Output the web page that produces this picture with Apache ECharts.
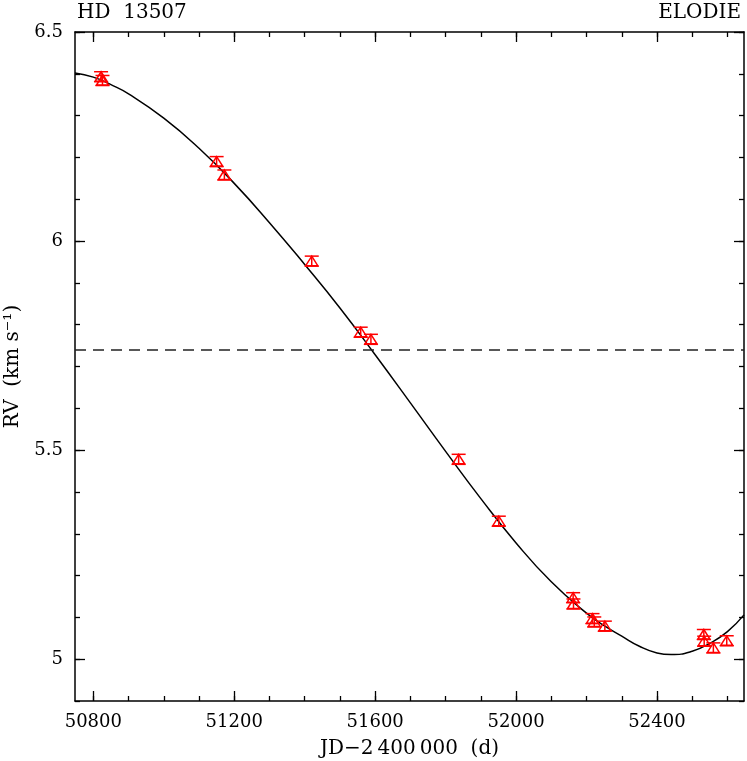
<!DOCTYPE html>
<html>
<head>
<meta charset="utf-8">
<title>HD 13507 ELODIE</title>
<script src="https://cdn.jsdelivr.net/npm/echarts@6/dist/echarts.min.js"></script>
<style>
    html, body { margin: 0; padding: 0; background: #fff; }
    #chart { width: 747px; height: 761px; }
</style>
</head>
<body>
<div id="chart"></div>
<script>
// mesures ELODIE (JD-2400000, km/s)
var obsJd  = [50822, 50826, 51150, 51172, 51420, 51559, 51588, 51837, 51951,
              52162, 52163, 52217, 52222, 52252, 52533, 52534, 52560, 52598];
var obsRv  = [6.393, 6.384, 6.190, 6.158, 5.952, 5.782, 5.765, 5.478, 5.330,
              5.147, 5.132, 5.097, 5.089, 5.079, 5.059, 5.043, 5.027, 5.044];
var obsErr = [0.012, 0.012, 0.012, 0.012, 0.012, 0.012, 0.012, 0.012, 0.012,
              0.012, 0.012, 0.012, 0.012, 0.012, 0.012, 0.012, 0.012, 0.012];

// courbe orbitale
var fitJd = [50748, 50800, 50850, 50900, 51000, 51100, 51200, 51300, 51400, 51500,
             51600, 51700, 51800, 51900, 52000, 52100, 52200, 52250, 52300, 52350,
             52400, 52440, 52500, 52550, 52600, 52647];
var fitRv = [6.402, 6.392, 6.374, 6.352, 6.294, 6.222, 6.138, 6.044, 5.944, 5.840,
             5.728, 5.613, 5.497, 5.384, 5.278, 5.185, 5.110, 5.080, 5.055, 5.031,
             5.015, 5.011, 5.019, 5.038, 5.066, 5.106];

var gammaRv = 5.744;

var xMin = 50748, xMax = 52647;
var yMin = 4.9, yMax = 6.5;
var xMajorTicks = [50800, 51200, 51600, 52000, 52400];
var xMinorTicks = [50800, 50900, 51000, 51100, 51200, 51300, 51400, 51500, 51600, 51700,
                   51800, 51900, 52000, 52100, 52200, 52300, 52400, 52500, 52600];
var yMajorTicks = [5, 5.5, 6, 6.5];
var yMinorTicks = [4.9, 5, 5.1, 5.2, 5.3, 5.4, 5.5, 5.6, 5.7, 5.8, 5.9, 6, 6.1, 6.2, 6.3, 6.4, 6.5];

var FONT = '"DejaVu Serif", serif';

var makeAxis = function (pos, min, max, ticks, len, major) {
    var ax = {
        type: 'value',
        position: pos,
        min: min,
        max: max,
        splitLine: { show: false },
        axisLine: { show: major, onZero: false, lineStyle: { color: '#000', width: 1.5 } },
        axisTick: { show: true, inside: true, length: len, customValues: ticks,
                    lineStyle: { color: '#000', width: 1.3 } },
        axisLabel: { show: false }
    };
    return ax;
};

var xBottom = makeAxis('bottom', xMin, xMax, xMajorTicks, 10, true);
xBottom.axisLabel = { show: true, customValues: xMajorTicks, margin: 12,
                      color: '#000', fontFamily: FONT, fontSize: 18,
                      formatter: function (v) { return String(v); } };
xBottom.name = 'JD\u22122\u2009400\u2009000  (d)';
xBottom.nameLocation = 'middle';
xBottom.nameGap = 38;
xBottom.nameTextStyle = { color: '#000', fontFamily: FONT, fontSize: 20 };

var yLeft = makeAxis('left', yMin, yMax, yMajorTicks, 10, true);
yLeft.axisLabel = { show: true, customValues: yMajorTicks, margin: 12,
                    color: '#000', fontFamily: FONT, fontSize: 18,
                    formatter: function (v) { return String(v); } };
yLeft.name = 'RV  (km s\u207B\u00B9)';
yLeft.nameLocation = 'middle';
yLeft.nameGap = 52;
yLeft.nameTextStyle = { color: '#000', fontFamily: FONT, fontSize: 20 };

var chart = echarts.init(document.getElementById('chart'));
var option = {
    animation: false,
    backgroundColor: '#fff',
    title: [
        { text: 'HD  13507', left: 72, top: -2,
          textStyle: { color: '#000', fontFamily: FONT, fontSize: 20, fontWeight: 'normal' } },
        { text: 'ELODIE', right: 1, top: -2,
          textStyle: { color: '#000', fontFamily: FONT, fontSize: 20, fontWeight: 'normal' } }
    ],
    grid: { left: 75, right: 3, top: 32, bottom: 60, outerBoundsMode: 'none', containLabel: false },
    xAxis: [
        xBottom,
        makeAxis('bottom', xMin, xMax, xMinorTicks, 5, false),
        makeAxis('top', xMin, xMax, xMajorTicks, 10, true),
        makeAxis('top', xMin, xMax, xMinorTicks, 5, false)
    ],
    yAxis: [
        yLeft,
        makeAxis('left', yMin, yMax, yMinorTicks, 5, false),
        makeAxis('right', yMin, yMax, yMajorTicks, 10, true),
        makeAxis('right', yMin, yMax, yMinorTicks, 5, false)
    ],
    series: [
        {
            name: 'orbite',
            type: 'line',
            xAxisIndex: 0,
            yAxisIndex: 0,
            smooth: 0.5,
            showSymbol: false,
            clip: true,
            lineStyle: { color: '#000', width: 1.5 },
            data: fitJd.map(function (d, i) { return [d, fitRv[i]]; }),
            markLine: {
                silent: true,
                symbol: 'none',
                label: { show: false },
                lineStyle: { color: '#222', width: 1.5, type: [11, 7] },
                data: [{ yAxis: gammaRv }]
            },
            z: 2
        },
        {
            name: 'ELODIE',
            type: 'custom',
            xAxisIndex: 0,
            yAxisIndex: 0,
            clip: true,
            data: obsJd.map(function (d, i) { return [d, obsRv[i], obsErr[i]]; }),
            renderItem: function (params, api) {
                var x = api.value(0), y = api.value(1), e = api.value(2);
                var c = api.coord([x, y]);
                var hi = api.coord([x, y + e]);
                var lo = api.coord([x, y - e]);
                var red = '#ff0000';
                var st = { stroke: red, lineWidth: 1.5, fill: null };
                return {
                    type: 'group',
                    children: [
                        { type: 'polygon',
                          shape: { points: [[c[0] - 6, c[1] + 4.5], [c[0] + 6, c[1] + 4.5], [c[0], c[1] - 5]] },
                          style: st },
                        { type: 'line', shape: { x1: c[0], y1: hi[1], x2: c[0], y2: lo[1] }, style: st },
                        { type: 'line', shape: { x1: c[0] - 7, y1: hi[1], x2: c[0] + 7, y2: hi[1] }, style: st },
                        { type: 'line', shape: { x1: c[0] - 7, y1: lo[1], x2: c[0] + 7, y2: lo[1] }, style: st }
                    ]
                };
            },
            z: 3
        }
    ]
};
chart.setOption(option);
</script>
</body>
</html>
